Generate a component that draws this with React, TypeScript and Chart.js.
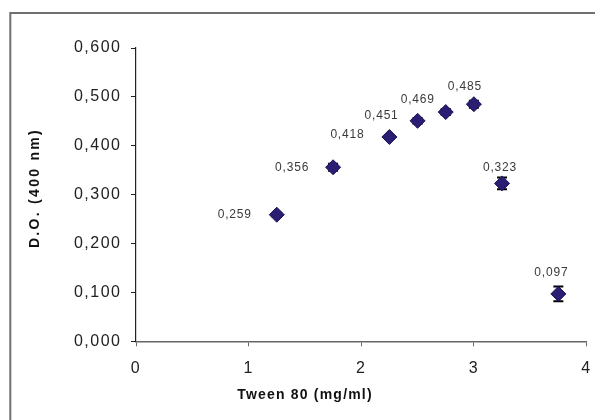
import React, { useEffect, useRef } from 'react';
import { Chart, registerables } from 'chart.js';

Chart.register(...registerables);

// ---- data ----
const concentrations = [1.25, 1.75, 2.25, 2.5, 2.75, 3, 3.25, 3.75];
const absorbance = [0.259, 0.356, 0.418, 0.451, 0.469, 0.485, 0.323, 0.097];
const errors = [0.004, 0.007, 0.004, 0.006, 0.006, 0.007, 0.012, 0.015];
const xTitle = 'Tween 80 (mg/ml)';
const yTitle = 'D.O. (400 nm)';
const xMin = 0;
const xMax = 4;
const yMin = 0;
const yMax = 0.6;

const fmt = (v: number) => v.toFixed(3).replace('.', ',');

const FONT = '"Liberation Sans", Arial, sans-serif';

const decorPlugin = {
  id: 'decor',
  beforeDraw(chart: any) {
    const ctx = chart.ctx;
    ctx.save();
    ctx.fillStyle = '#ffffff';
    ctx.fillRect(0, 0, chart.width, chart.height);
    ctx.strokeStyle = '#707070';
    ctx.lineWidth = 2;
    ctx.beginPath();
    ctx.moveTo(10.3, chart.height + 2);
    ctx.lineTo(10.3, 13);
    ctx.lineTo(chart.width + 2, 13);
    ctx.stroke();
    ctx.restore();
    (ctx as any).letterSpacing = '1.5px';
  },
  beforeDatasetsDraw(chart: any) {
    const ctx = chart.ctx;
    const xs = chart.scales.x;
    const ys = chart.scales.y;
    ctx.save();
    ctx.strokeStyle = '#000000';
    ctx.lineWidth = 2;
    concentrations.forEach((c, i) => {
      const px = xs.getPixelForValue(c);
      const top = ys.getPixelForValue(absorbance[i] + errors[i]);
      const bot = ys.getPixelForValue(absorbance[i] - errors[i]);
      ctx.beginPath();
      ctx.moveTo(px, top);
      ctx.lineTo(px, bot);
      ctx.moveTo(px - 5, top);
      ctx.lineTo(px + 5, top);
      ctx.moveTo(px - 5, bot);
      ctx.lineTo(px + 5, bot);
      ctx.stroke();
    });
    ctx.restore();
  },
  afterDatasetsDraw(chart: any, _args: any, opts: any) {
    const ctx = chart.ctx;
    const xs = chart.scales.x;
    const ys = chart.scales.y;
    const offsets: number[][] = opts.offsets;
    ctx.save();
    (ctx as any).letterSpacing = '0.8px';
    ctx.font = `12px ${FONT}`;
    ctx.fillStyle = '#3a3a3a';
    ctx.textAlign = 'center';
    ctx.textBaseline = 'middle';
    absorbance.forEach((v, i) => {
      const px = xs.getPixelForValue(concentrations[i]);
      const py = ys.getPixelForValue(v);
      const [dx, dy] = offsets[i];
      ctx.fillText(fmt(v), px + dx, py + dy);
    });
    ctx.restore();
  },
  afterDraw(chart: any) {
    const ctx = chart.ctx;
    ctx.save();
    ctx.fillStyle = '#111111';
    ctx.textAlign = 'center';
    ctx.textBaseline = 'middle';
    ctx.font = `bold 14px ${FONT}`;
    (ctx as any).letterSpacing = '1.2px';
    ctx.fillText(xTitle, 305, 395);
    ctx.translate(35, 188);
    ctx.rotate(-Math.PI / 2);
    (ctx as any).letterSpacing = '2.3px';
    ctx.fillText(yTitle, 0, 0);
    ctx.restore();
  },
};

export default function App() {
  const canvasRef = useRef<HTMLCanvasElement | null>(null);

  useEffect(() => {
    if (!canvasRef.current) return;
    const chart = new Chart(canvasRef.current, {
      type: 'scatter',
      data: {
        datasets: [
          {
            data: concentrations.map((c, i) => ({ x: c, y: absorbance[i] })),
            pointStyle: 'rectRot',
            pointRadius: 7.5,
            pointHoverRadius: 7.5,
            backgroundColor: '#2A1E72',
            borderColor: '#1C1358',
            borderWidth: 1,
            showLine: false,
          },
        ],
      },
      options: {
        responsive: false,
        animation: false,
        devicePixelRatio: 1,
        layout: { padding: { left: 0, top: 48, right: 8.3, bottom: 0 } },
        plugins: {
          legend: { display: false },
          tooltip: { enabled: false },
          decor: {
            offsets: [
              [-42, 0],
              [-41, 0],
              [-42, -2],
              [-36, -5],
              [-28, -12],
              [-9, -18],
              [-2, -16],
              [-7, -21],
            ],
          },
        } as any,
        scales: {
          x: {
            type: 'linear',
            min: xMin,
            max: xMax,
            afterFit: (s: any) => {
              s.height = 78.7;
              s.paddingLeft = 0;
              s.paddingRight = 0;
            },
            grid: { drawOnChartArea: false, drawTicks: true, tickLength: 5, color: '#666666' },
            border: { color: '#666666', width: 1.5 },
            ticks: {
              stepSize: 1,
              padding: 13,
              color: '#222222',
              font: { family: FONT, size: 16 },
              callback: (v: any) => String(v),
            },
            title: { display: false },
          },
          y: {
            type: 'linear',
            min: yMin,
            max: yMax,
            afterFit: (s: any) => {
              s.width = 136;
              s.paddingTop = 0;
              s.paddingBottom = 0;
            },
            grid: { drawOnChartArea: false, drawTicks: true, tickLength: 5, color: '#222222' },
            border: { color: '#222222', width: 1.2 },
            ticks: {
              stepSize: 0.1,
              padding: 9.5,
              color: '#222222',
              font: { family: FONT, size: 16 },
              callback: (v: any) => fmt(Number(v)),
            },
            title: { display: false },
          },
        },
      },
      plugins: [decorPlugin],
    });
    return () => chart.destroy();
  }, []);

  return (
    <div style={{ position: 'fixed', left: 0, top: 0, width: 595, height: 420, background: '#fff' }}>
      <canvas ref={canvasRef} width={595} height={420} />
    </div>
  );
}
